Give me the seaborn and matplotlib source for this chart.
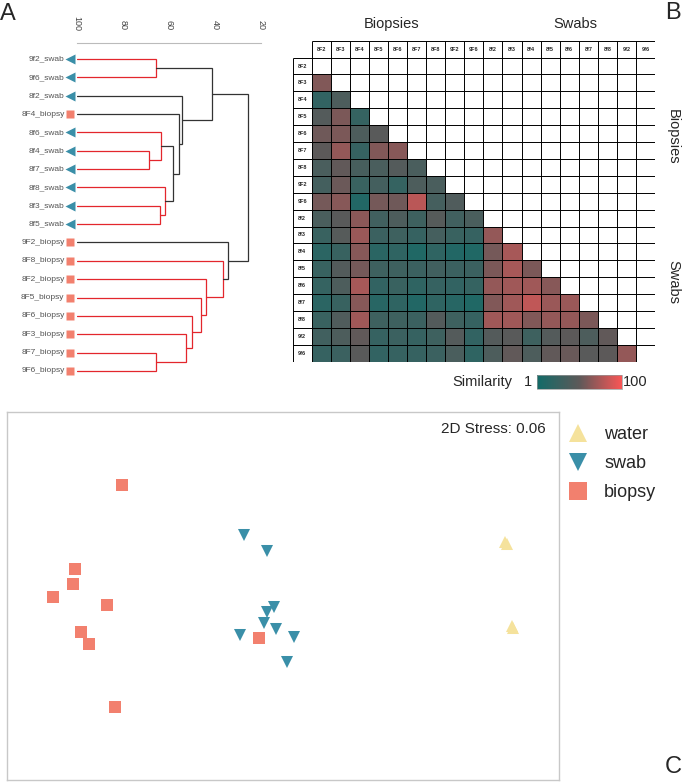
import numpy as np
import pandas as pd
import seaborn as sns
import matplotlib.pyplot as plt
from matplotlib.colors import LinearSegmentedColormap

# ---- panel A: dendrogram (leaf order top to bottom) ----
leaf_names = ['9f2_swab', '9f6_swab', '8f2_swab', '8F4_biopsy', '8f6_swab', '8f4_swab',
              '8f7_swab', '8f8_swab', '8f3_swab', '8f5_swab', '9F2_biopsy', '8F8_biopsy',
              '8F2_biopsy', '8F5_biopsy', '8F6_biopsy', '8F3_biopsy', '8F7_biopsy', '9F6_biopsy']
# merges: (child a, child b, similarity, in-group colour?) ; new node id = 18 + index
merge_a = [0, 5, 4, 8, 7, 20, 3, 2, 18, 16, 15, 14, 13, 12, 11, 10, 26]
merge_b = [1, 6, 19, 9, 21, 22, 23, 24, 25, 17, 27, 28, 29, 30, 31, 32, 33]
merge_sim = [65.7, 68.6, 63.5, 63.8, 61.9, 58.3, 55.8, 54.2, 41.2,
             65.7, 52.6, 50.1, 46.2, 44.0, 36.7, 34.3, 25.5]
merge_red = [1, 1, 1, 1, 1, 0, 0, 0, 0, 1, 1, 1, 1, 1, 1, 0, 0]
dendro_ticks = [100, 80, 60, 40, 20]

# ---- panel B: similarity matrix (lower triangle) ----
sample_labels = ['8F2', '8F3', '8F4', '8F5', '8F6', '8F7', '8F8', '9F2', '9F6',
                 '8f2', '8f3', '8f4', '8f5', '8f6', '8f7', '8f8', '9f2', '9f6']
sim_rows = [
    [],
    [62],
    [22, 40],
    [45, 60, 24],
    [56, 60, 40, 48],
    [50, 68, 25, 62, 64],
    [38, 52, 36, 38, 45, 38],
    [34, 55, 27, 34, 24, 40, 38],
    [58, 64, 12, 58, 56, 80, 35, 42],
    [38, 48, 65, 32, 40, 30, 46, 32, 38],
    [27, 46, 70, 28, 30, 25, 35, 27, 25, 68],
    [18, 26, 64, 17, 20, 10, 20, 12, 10, 58, 74],
    [26, 44, 58, 30, 30, 28, 32, 28, 28, 60, 74, 60],
    [24, 40, 74, 22, 27, 20, 25, 22, 24, 68, 72, 72, 64],
    [18, 26, 64, 16, 20, 12, 20, 15, 10, 62, 72, 82, 70, 70],
    [27, 42, 72, 30, 30, 28, 44, 30, 25, 72, 72, 62, 68, 68, 60],
    [32, 40, 52, 25, 28, 25, 30, 45, 22, 45, 48, 30, 45, 50, 40, 52],
    [25, 28, 48, 22, 25, 25, 28, 38, 20, 40, 52, 40, 52, 54, 48, 50, 68],
]

# ---- panel C: NMDS ordination ----
biopsy_x = [-1.61, -2.08, -2.10, -2.30, -1.76, -2.02, -1.94, -1.68, -0.24]
biopsy_y = [1.11, 0.27, 0.12, -0.01, -0.09, -0.36, -0.48, -1.11, -0.42]
swab_x = [-0.39, -0.16, -0.09, -0.16, -0.19, -0.07, -0.43, 0.11, 0.04]
swab_y = [0.61, 0.45, -0.11, -0.16, -0.27, -0.33, -0.39, -0.41, -0.66]
water_x = [2.22, 2.24, 2.29, 2.30]
water_y = [0.54, 0.52, -0.30, -0.32]

TEAL = '#3a8fa8'
SALMON = '#f2806e'
YELLOW = '#f5e29c'
RED = '#e3262c'
DARK = '#333333'

sns.set_style('white')
plt.rcParams['font.family'] = ['Liberation Sans', 'DejaVu Sans']

W, H = 685, 784
fig = plt.figure(figsize=(W / 100, H / 100), dpi=100)


def fax(x0, y0, x1, y1):
    # pixel box -> figure axes
    return fig.add_axes([x0 / W, 1 - y1 / H, (x1 - x0) / W, (y1 - y0) / H])


# ================= A =================
axd = fax(77, 43, 261, 380)
leaf_pitch = 18.35
axd.set_xlim(100, 20)
axd.set_ylim((380 - 59) / leaf_pitch, -(59 - 43) / leaf_pitch)
ypos = {i: float(i) for i in range(len(leaf_names))}
hpos = {i: 100.0 for i in range(len(leaf_names))}
for k, (a, b, s, r) in enumerate(zip(merge_a, merge_b, merge_sim, merge_red)):
    col = RED if r else DARK
    axd.plot([hpos[a], s, s, hpos[b]], [ypos[a], ypos[a], ypos[b], ypos[b]],
             color=col, lw=0.9, solid_joinstyle='miter')
    node = len(leaf_names) + k
    ypos[node] = (ypos[a] + ypos[b]) / 2
    hpos[node] = s

for i, name in enumerate(leaf_names):
    is_swab = name.endswith('swab')
    axd.plot(103.0, i, marker='<' if is_swab else 's',
             color=TEAL if is_swab else SALMON,
             ms=6.5 if is_swab else 5.2, clip_on=False, mec='none')
    axd.text(105.4, i, name, ha='right', va='center', fontsize=6, color='#555555',
             clip_on=False)

for sp in ['left', 'right', 'bottom']:
    axd.spines[sp].set_visible(False)
axd.spines['top'].set_color('#bbbbbb')
axd.spines['top'].set_linewidth(0.8)
axd.xaxis.tick_top()
axd.set_xticks(dendro_ticks)
axd.set_xticklabels([str(t) for t in dendro_ticks], rotation=-90, fontsize=6.5, color='#444444')
axd.tick_params(axis='x', length=0, pad=9)
axd.set_yticks([])

# ================= B =================
n = len(sample_labels)
mat = np.full((n + 1, n + 1), np.nan)
for i, row in enumerate(sim_rows):
    for j, v in enumerate(row):
        mat[i + 1, j + 1] = v
cmap = LinearSegmentedColormap.from_list('sim', ['#126b68', '#5d5959', '#f85656'])

axh = fax(292.7, 40.7, 655, 361.7)
cax = fax(536.7, 375, 621.7, 389)
sns.heatmap(mat, ax=axh, cmap=cmap, vmin=1, vmax=100, cbar_ax=cax,
            cbar_kws={'orientation': 'horizontal'}, xticklabels=False, yticklabels=False)
cb = axh.collections[0].colorbar
cb.set_ticks([])
cb.outline.set_edgecolor('#999999')
cb.outline.set_linewidth(0.5)

for k in range(n + 2):
    axh.hlines(k, 1 if k == 0 else 0, n + 1, color='black', lw=0.7)
    axh.vlines(k, 1 if k == 0 else 0, n + 1, color='black', lw=0.7)
for k, lab in enumerate(sample_labels):
    axh.text(k + 1.5, 0.5, lab, ha='center', va='center', fontsize=4, fontweight='bold')
    axh.text(0.5, k + 1.5, lab, ha='center', va='center', fontsize=4, fontweight='bold')
axh.set_xlim(0, n + 1)
axh.set_ylim(n + 1, 0)
for sp in axh.spines.values():
    sp.set_visible(False)

fig.text(391.7 / W, 1 - 24 / H, 'Biopsies', ha='center', va='center', fontsize=10.5)
fig.text(575 / W, 1 - 24 / H, 'Swabs', ha='center', va='center', fontsize=10.5)
fig.text(673 / W, 1 - 137 / H, 'Biopsies', ha='center', va='center', fontsize=10.5, rotation=-90)
fig.text(673 / W, 1 - 282 / H, 'Swabs', ha='center', va='center', fontsize=10.5, rotation=-90)
fig.text(512.7 / W, 1 - 382 / H, 'Similarity', ha='right', va='center', fontsize=10.5)
fig.text(532 / W, 1 - 382 / H, '1', ha='right', va='center', fontsize=10.5)
fig.text(623 / W, 1 - 382 / H, '100', ha='left', va='center', fontsize=10.5)

# ================= C =================
df = pd.DataFrame({
    'x': water_x + swab_x + biopsy_x,
    'y': water_y + swab_y + biopsy_y,
    'type': ['water'] * len(water_x) + ['swab'] * len(swab_x) + ['biopsy'] * len(biopsy_x),
})
axs = fax(7.3, 412.3, 559.3, 780)
sns.scatterplot(data=df, x='x', y='y', hue='type', style='type',
                hue_order=['water', 'swab', 'biopsy'], style_order=['water', 'swab', 'biopsy'],
                palette={'water': YELLOW, 'swab': TEAL, 'biopsy': SALMON},
                markers={'water': '^', 'swab': 'v', 'biopsy': 's'},
                s=75, linewidth=0, ax=axs, legend=True)
handles, labels = axs.get_legend_handles_labels()
axs.get_legend().remove()
for hd in handles:
    hd.set_markersize(13)
fig.legend(handles, labels, loc='upper left', bbox_to_anchor=(569 / W, 1 - 426 / H),
           frameon=False, fontsize=13, handlelength=1.0, handletextpad=0.95,
           labelspacing=0.66, borderpad=0, borderaxespad=0)
axs.set_xlim(-2.757, 2.763)
axs.set_ylim(-1.84, 1.837)
axs.set_xticks([])
axs.set_yticks([])
axs.set_xlabel('')
axs.set_ylabel('')
for sp in axs.spines.values():
    sp.set_visible(True)
    sp.set_color('#c8c8c8')
    sp.set_linewidth(1)
axs.text(0.976, 0.955, '2D Stress: 0.06', transform=axs.transAxes, ha='right', va='center',
         fontsize=11)

fig.text(0 / W, 1 - 3 / H, 'A', ha='left', va='top', fontsize=17)
fig.text(665 / W, 1 - 2 / H, 'B', ha='left', va='top', fontsize=17)
fig.text(665 / W, 1 - 756 / H, 'C', ha='left', va='top', fontsize=17)

fig.savefig('out.png', dpi=100)
